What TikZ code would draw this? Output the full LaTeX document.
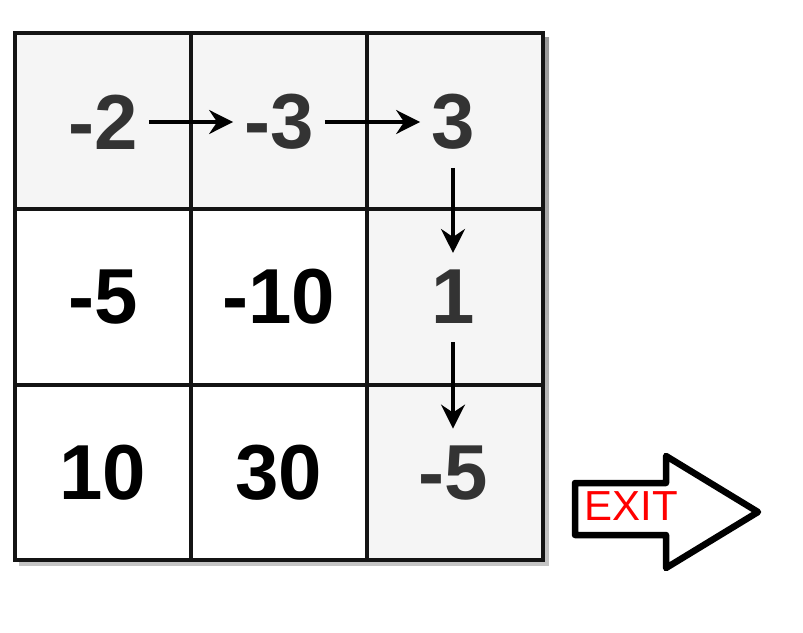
\documentclass[tikz,border=0pt]{standalone}
\usepackage{fontspec}
\setmainfont{Liberation Sans}
\usetikzlibrary{arrows.meta}
\definecolor{cellhl}{HTML}{F5F5F5}
\definecolor{txthl}{HTML}{333333}
\definecolor{shade}{HTML}{9A9AB0}
\begin{document}
\begin{tikzpicture}[x=1pt,y=-1pt,
  gridline/.style={line width=3.4pt,draw=black!92},
  num/.style={inner sep=0pt,font=\fontsize{78}{78}\selectfont\bfseries},
  hl/.style={num,text=txthl},
  plain/.style={num,text=black},
  tip/.style={-{Stealth[length=24pt,width=24pt,inset=8pt]}},
  hstep/.style={line width=3.2pt,tip,shorten <=11pt,shorten >=11pt},
  vstep/.style={line width=3.2pt,tip,shorten <=18pt,shorten >=17pt},
  exitarrow/.style={line width=6.5pt,line join=round,draw=black,fill=white}]
\useasboundingbox (0,0) rectangle (803,632);
% shadow
\fill[shade,opacity=0.35] (19,37) rectangle (549,566);
% cells
\fill[white] (15,33) rectangle (543,560);
\fill[cellhl] (15,33) rectangle (543,209);
\fill[cellhl] (367,209) rectangle (543,560);
% grid
\draw[gridline] (15,33) rectangle (543,560);
\draw[gridline] (191,33) -- (191,560);
\draw[gridline] (367,33) -- (367,560);
\draw[gridline] (15,209) -- (543,209);
\draw[gridline] (15,385) -- (543,385);
% numbers
\node[hl] (a11) at (103,122) {-2};
\node[hl] (a12) at (279,122) {-3};
\node[hl] (a13) at (453,122) {3};
\node[plain] (a21) at (103,297) {-5};
\node[plain] (a22) at (279,297) {-10};
\node[hl] (a23) at (453,297) {1};
\node[plain] (a31) at (103,473) {10};
\node[plain] (a32) at (279,473) {30};
\node[hl] (a33) at (453,473) {-5};
% path arrows
\draw[hstep] (a11.east) -- (a12.west);
\draw[hstep] (a12.east) -- (a13.west);
\draw[vstep] (a13.south) -- (a23.north);
\draw[vstep] (a23.south) -- (a33.north);
% exit arrow
\draw[exitarrow] (575,483) -- (666,483) -- (666,456) -- (758,512) -- (666,568) -- (666,535) -- (575,535) -- cycle;
\node[inner sep=0pt,text=red,font=\fontsize{42}{42}\selectfont] (exit) at (631,506) {EXIT};
\end{tikzpicture}
\end{document}
